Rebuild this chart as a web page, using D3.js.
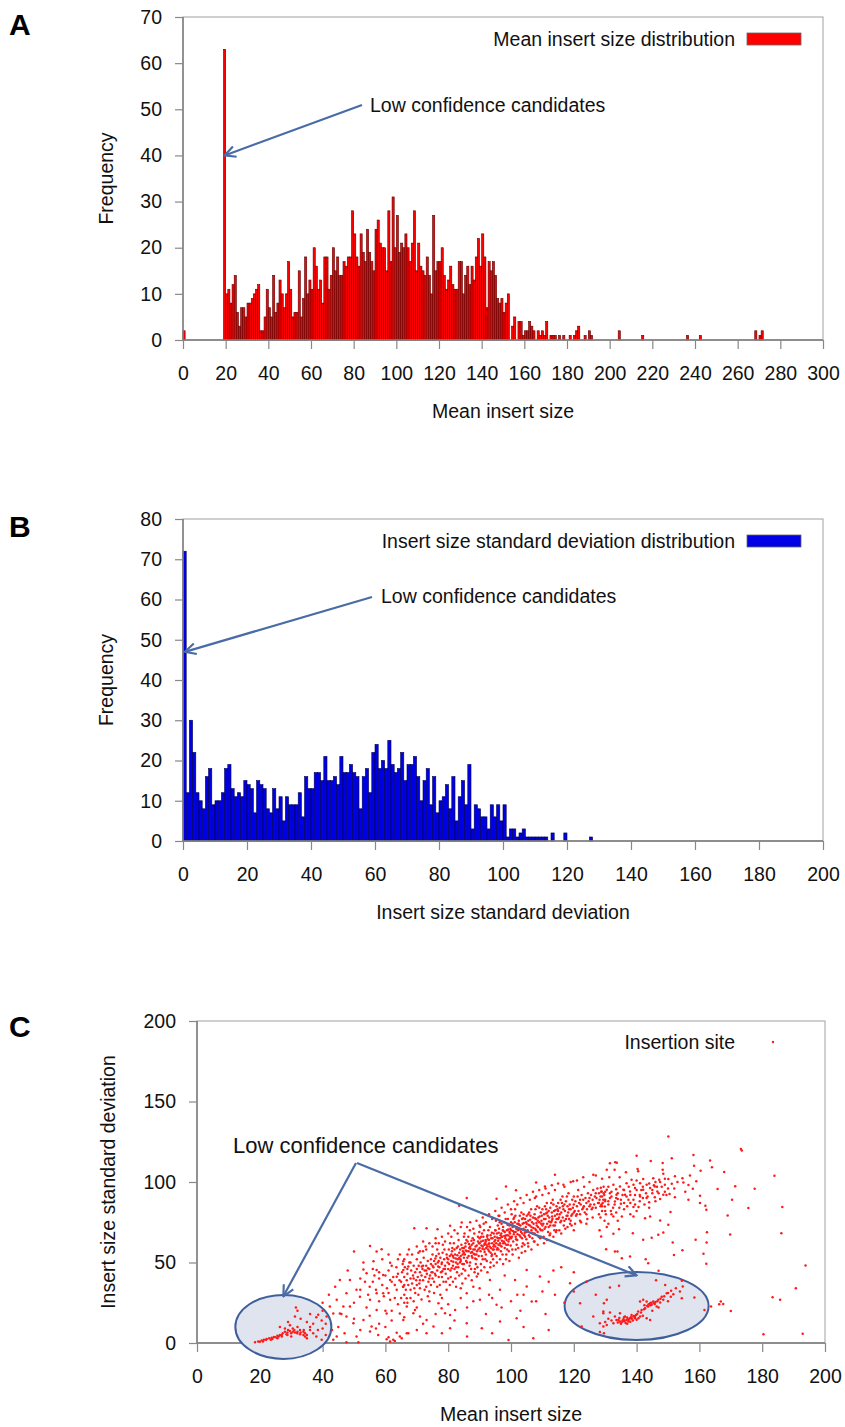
<!DOCTYPE html>
<html>
<head>
<meta charset="utf-8">
<script src="https://cdnjs.cloudflare.com/ajax/libs/d3/7.8.5/d3.min.js"></script>
<style>
  body { margin: 0; background: #fff; }
  text { font-family: "Liberation Sans", Arial, Helvetica, sans-serif; }
</style>
</head>
<body>
<svg id="chart"></svg>
<script>
//Panel A: mean insert size histogram (bin width 1)
const meanStart = 19;
const meanCounts = [63,10,11,8,12,14,6,3,7,7,5,8,8,9,10,11,12,2,2,5,11,7,5,14,6,8,13,10,7,10,
  17,11,5,6,6,15,5,9,18,10,13,11,20,16,11,13,8,18,18,11,14,20,15,18,14,14,17,16,18,18,
  28,23,18,16,23,19,17,24,19,17,15,24,26,21,20,20,15,28,17,31,20,27,19,21,20,23,20,17,21,28,
  15,21,16,15,14,18,14,10,27,15,17,17,20,14,11,13,16,12,11,11,17,17,10,14,16,12,16,13,18,22,
  16,23,18,7,17,15,17,14,9,8,9,6,8,10,0,3,5,0,4,4,1,2,2,4,3,2,0,2,1,2,1,4,0,1,1,1,0,1,0,1,
  0,0,1,0,1,2,3,0,0,1,0,2,1];
const meanExtraBins = [[0,2],[204,2],[215,1],[236,1],[242,1],[268,2],[270,1],[271,2]];
const meanXTicks = [0,20,40,60,80,100,120,140,160,180,200,220,240,260,280,300];
const meanYTicks = [0,10,20,30,40,50,60,70];

//Panel B: insert size standard deviation histogram (bin width 1, starting at 0)
const sdCounts = [72,12,30,22,12,10,8,16,18,9,10,10,12,18,19,13,11,12,11,15,
  14,13,7,15,14,13,8,7,13,8,11,5,11,9,9,9,12,6,16,13,
  13,17,17,15,21,15,15,16,14,21,17,17,19,17,16,8,16,18,12,22,
  24,18,20,18,25,19,17,18,22,15,19,19,21,16,10,15,18,9,16,7,
  10,11,14,8,16,5,11,15,9,19,3,9,8,6,6,3,9,6,9,5,
  9,1,3,3,1,2,3,1,1,1,1,1,1,1,0,2,0,0,0,2,0,0,0,0,0,0,0,1];
const sdXTicks = [0,20,40,60,80,100,120,140,160,180,200];
const sdYTicks = [0,10,20,30,40,50,60,70,80];

//Panel C: insertion sites [mean insert size, insert size sd]
const siteXTicks = [0,20,40,60,80,100,120,140,160,180,200];
const siteYTicks = [0,50,100,150,200];

const leftCluster = [[18.5,0.5],[19.5,1],[20.6,1.5],[21.3,2],[22.2,2.5],[23,3],[23.8,3.2],[24.5,3.8],[25.6,4.5],[26.4,5],
  [27.3,6],[28,7],[28.8,6.5],[29.6,7.5],[30.5,7],[31.2,6.5],[31.9,6],[32.8,5.5],[33.9,5],[34.4,6],
  [29.6,11],[31.5,22],[32,20],[31.2,16.5],[32.8,8],[35,13],[36,10],[38,16],[38.6,17.5],[39.7,14],
  [38,4],[39.7,2],[26.4,10],[28,9],[30.5,9],[32,10],[33.9,7],[34.4,4],[28.8,5],[25.6,3],
  [22,2],[24,2.5],[27,4],[30,4],[20,0.8],[36,8],[37,12],[40,9],[41,12],[35,3],
  [21,1],[23.5,2],[25,3.5],[26,4],[27,5],[28.5,5.5],[29,8],[30,6],[31,8],[32,7],
  [33,6.5],[34,8],[35,5],[37,6],[38.5,8],[29,13],[33,15],[36,18],[40,20],[41,5]];

const lowScatter = [[50,56.8],[55.1,60.3],[57.2,56.8],[58.8,58.3],[56.2,50.8],[61.5,49.8],[64.6,55],[65.7,50.8],
  [53,45.6],[54,43.4],[57.2,45.3],[59.3,42.3],[61.5,39.2],[63.6,41.2],[65.7,45.3],[67.3,47.5],
  [48.7,39.2],[50.8,33],[45.5,39.2],[47.6,30.9],[44.5,26.8],[46.6,22.6],[42.3,22.6],[43.4,18.4],
  [41.3,16.4],[45.5,18.4],[47.6,16.4],[49.8,12.3],[48.7,22.6],[51.9,28.8],[55.1,26.8],[57.2,30.9],
  [59.3,30.9],[61.5,26.8],[63.6,33],[65.7,35],[57.2,20.5],[60.4,18.4],[64.6,18.4],[66.8,22.6],
  [53,14.3],[55.6,10.2],[50.8,4],[47.6,0.5],[44.5,4],[43.4,2],[57.7,5],[60.4,2.3],[61.5,0.9],
  [62.5,2],[64.6,4],[66.8,6],[63.6,6.4],[55.1,7.1],[51.4,0.5],[61,3.5],[63,1.2],
  [55,35],[56,38],[57,33],[58,40],[59,36],[60,42],[60.5,34],[61,45],[62,38],[62.5,41],[63,36],
  [63.5,47],[64,43],[64.5,39],[58,44],[59.5,29],[61,31],[56.5,42],[53.5,38],[52,33],[54.5,30],
  [66.8,27.8],[69.4,20.5],[68.9,18.5],[71,16.4],[73.1,14.3],[75.3,10.2],[76.9,24.7],[77.9,21.6],
  [79,18.5],[80.6,17.4],[82.2,20.5],[85.9,30.9],[90.1,26.8],[90.7,9.1],[96.5,33],[95.4,23.7],
  [96.5,13.3],[99.2,1.9],[101.8,15.4],[105,35.1],[106.6,25.7],[107.1,2.9],[109.2,41.3],[113.5,45],
  [118.8,37.1],[122,24.7],[122.5,10.2],[126.2,16.4],[129.4,19.5],[130.5,26.8],[85.9,12.2],[73.1,6],
  [67.3,6],[65.7,14.3],[65.2,2.9],[80.6,9.1],[89.1,41.3],[93.3,39.2],[101.3,39.2],[105,45.4],
  [88,35],[98,42],[112,38],[116,47],[120,44],[84,28],[93,30],[102,30],[110,32],
  [42,30],[44,35],[46,18],[48,45],[50,25],[52,40],[53,50],[54,22],[56,46],[58,26],[59,52],[60,20],
  [62,48],[63,28],[64,52],[45,10],[50,15],[55,17],[58,12],[62,14],[40,25],[43,8],[47,6],[52,8],
  [57,9],[60,10],[64,24],[66,25],[61,55],
  [62,20],[66,16],[70,22],[72,12],[74,26],[76,18],[78,28],[80,24],[82,14],[84,34],[86,22],[88,26],
  [90,34],[92,18],[94,28],[97,22],[100,26],[103,20],[104,30],[108,26],[111,18],[114,30],[117,25],
  [120,32],[124,38],[127,30],[70,8],[78,6],[86,4],[94,6],[104,10],[112,8]];

const mainBand = [[65,38],[65.3,44],[65.6,35],[66,41],[66.2,47],[66.5,33],[66.8,39],[67,43],[67.3,36],[67.6,50],
  [68,40],[68.2,45],[68.5,37],[68.8,42],[69,48],[69.2,34],[69.5,44],[69.8,39],[70,46],[70,52],
  [66,30],[68,28],[67,55],[69.5,31],[65.5,49],
  [70.3,41],[70.6,48],[70.8,37],[71,44],[71.2,50],[71.5,42],[71.8,46],[72,39],[72.2,53],[72.5,45],
  [72.7,41],[73,48],[73.2,43],[73.5,51],[73.7,38],[74,46],[74.2,42],[74.5,49],[74.7,44],[75,55],
  [71,34],[72,57],[73,35],[74,32],[75,40],[70.5,56],[72.8,60],[74.5,52],[71.6,47.5],[73.6,46.5],
  [75.3,47],[75.5,51],[75.8,43],[76,49],[76.2,54],[76.5,45],[76.7,50],[77,41],[77.2,47],[77.5,53],
  [77.7,44],[78,50],[78.2,56],[78.5,46],[78.7,52],[79,48],[79.2,43],[79.5,55],[79.8,50],[80,46],
  [75.5,38],[76.5,58],[77.3,36],[78.3,61],[79.3,38],[76,62],[78.8,58],[77,55.5],[75,44],[79.6,53],
  [76.8,47.5],[78.1,44.5],[80,52],[77.9,49],[75.9,52.5],
  [80.3,49],[80.5,54],[80.7,45],[81,51],[81.2,57],[81.5,48],[81.7,53],[82,46],[82.2,55],[82.5,50],
  [82.7,59],[83,52],[83.2,47],[83.5,56],[83.7,50],[84,54],[84.2,61],[84.5,49],[84.7,57],[85,53],
  [80.8,41],[81.8,62],[82.3,40],[83.3,64],[84.3,43],[85,59],[81.3,59],[82.8,44],[83.8,58],[84.8,46],
  [80.2,58],[81.6,50.5],[82.9,54.5],[83.9,52],[84.6,55],[81.1,46.5],[82.4,52.5],[85,49],[83.1,60],[80.6,62],
  [85.3,55],[85.5,60],[85.7,51],[86,57],[86.2,63],[86.5,54],[86.7,59],[87,50],[87.2,56],[87.5,61],
  [87.7,53],[88,58],[88.2,64],[88.5,55],[88.7,60],[89,52],[89.2,57],[89.5,63],[89.7,54],[90,59],
  [85.4,45],[86.4,66],[87.3,46],[88.3,68],[89.3,47],[90,65],[85.8,64],[86.8,48],[87.8,65],[88.8,49],
  [89.8,62],[86.1,53],[87.1,58.5],[88.1,55.5],[89.1,60.5],[85.6,57.5],[86.6,61.5],[87.6,56.5],[88.6,52.5],[89.6,58],
  [86.9,70],[88.4,44],[85.2,68],[89.9,69],[87.4,63.5],
  [90.3,57],[90.5,63],[90.7,54],[91,60],[91.2,66],[91.5,58],[91.7,62],[92,55],[92.2,61],[92.5,67],
  [92.7,58],[93,64],[93.2,60],[93.5,56],[93.7,65],[94,62],[94.2,58],[94.5,68],[94.7,63],[95,60],
  [90.4,49],[91.4,70],[92.3,51],[93.3,72],[94.3,52],[95,70],[90.8,68],[91.8,52],[92.8,70],[93.8,54],
  [94.8,66],[91.1,63.5],[92.1,59],[93.1,62],[94.1,65],[90.6,60.5],[91.6,56.5],[92.6,64.5],[93.6,59],[94.6,61],
  [91.3,74],[93.4,47],[90.2,72],[94.9,55.5],[92.4,66],[91.9,64],[93.9,68.5],[92.9,61.5],[90.9,58.5],[94.4,60],
  [95.3,62],[95.5,68],[95.7,59],[96,65],[96.2,71],[96.5,62],[96.7,67],[97,60],[97.2,66],[97.5,72],
  [97.7,63],[98,69],[98.2,65],[98.5,61],[98.7,70],[99,67],[99.2,63],[99.5,73],[99.7,68],[100,65],
  [95.4,54],[96.4,75],[97.3,55],[98.3,77],[99.3,57],[100,75],[95.8,73],[96.8,57],[97.8,75],[98.8,58],
  [99.8,71],[96.1,68.5],[97.1,63.5],[98.1,66.5],[99.1,70.5],[95.6,65.5],[96.6,60.5],[97.6,69.5],[98.6,64],[99.6,66],
  [96.3,79],[98.4,52],[95.2,76],[99.9,60.5],[97.4,70],[96.9,68],[98.9,73.5],[97.9,66.5],[95.9,63.5],[99.4,64.5],
  [96,58],[98,62],[97,74],[99,77],[95,70],
  [100.3,66],[100.5,72],[100.7,63],[101,69],[101.2,75],[101.5,66],[101.7,71],[102,64],[102.2,70],[102.5,76],
  [102.7,67],[103,73],[103.2,69],[103.5,65],[103.7,74],[104,71],[104.2,67],[104.5,77],[104.7,72],[105,69],
  [100.4,58],[101.4,79],[102.3,59],[103.3,81],[104.3,61],[105,79],[100.8,77],[101.8,61],[102.8,79],[103.8,62],
  [104.8,75],[101.1,72.5],[102.1,67.5],[103.1,70.5],[104.1,74.5],[100.6,69.5],[101.6,64.5],[102.6,73.5],[103.6,68],[104.6,70],
  [101.3,83],[103.4,56],[100.2,80],[104.9,64.5],[102.4,74],[101.9,72],[103.9,77.5],[102.9,70.5],[100.9,67.5],[104.4,68.5],
  [105.3,70],[105.5,76],[105.7,67],[106,73],[106.2,79],[106.5,70],[106.7,75],[107,68],[107.2,74],[107.5,80],
  [107.7,71],[108,77],[108.2,73],[108.5,69],[108.7,78],[109,75],[109.2,71],[109.5,81],[109.7,76],[110,73],
  [105.4,62],[106.4,83],[107.3,63],[108.3,85],[109.3,65],[110,83],[105.8,81],[106.8,65],[107.8,83],[108.8,66],
  [109.8,79],[106.1,76.5],[107.1,71.5],[108.1,74.5],[109.1,78.5],[105.6,73.5],[106.6,68.5],[107.6,77.5],[108.6,72],[109.6,74],
  [110.3,74],[110.5,80],[110.7,71],[111,77],[111.2,83],[111.5,74],[111.7,79],[112,72],[112.2,78],[112.5,84],
  [112.7,75],[113,81],[113.2,77],[113.5,73],[113.7,82],[114,79],[114.2,75],[114.5,85],[114.7,80],[115,77],
  [110.4,66],[111.4,87],[112.3,67],[113.3,89],[114.3,69],[115,87],[110.8,85],[111.8,69],[112.8,87],[113.8,70],
  [114.8,83],[111.1,80.5],[112.1,75.5],[113.1,78.5],[114.1,82.5],
  [115.3,78],[115.5,84],[115.7,75],[116,81],[116.2,87],[116.5,78],[116.7,83],[117,76],[117.2,82],[117.5,88],
  [117.7,79],[118,85],[118.2,81],[118.5,77],[118.7,86],[119,83],[119.2,79],[119.5,89],[119.7,84],[120,81],
  [115.4,70],[116.4,91],[117.3,71],[118.3,93],[119.3,73],[120,91],[115.8,89],[116.8,73],[117.8,91],[118.8,74],
  [120.3,82],[120.5,88],[120.7,79],[121,85],[121.2,91],[121.5,82],[121.7,87],[122,80],[122.2,86],[122.5,92],
  [122.7,83],[123,89],[123.2,85],[123.5,81],[123.7,90],[124,87],[124.2,83],[124.5,93],[124.7,88],[125,85],
  [120.4,74],[121.4,95],[122.3,75],[123.3,97],[124.3,77],
  [125.3,86],[125.5,92],[125.7,83],[126,89],[126.2,95],[126.5,86],[126.7,91],[127,84],[127.2,90],[127.5,96],
  [127.7,87],[128,93],[128.2,89],[128.5,85],[128.7,94],[129,91],[129.2,87],[129.5,97],[129.7,92],[130,89],
  [128.5,91],[129.5,93],[130,88],[131,86],[128.8,86],[130.2,80],[129,82],[131.8,82],[132.5,84],[133.5,81],
  [134.5,84],[135,86.5],[136,83],[128.5,78],[129.8,76],[131,74],[128.2,70],[128.6,96.5],[131,97],[132,94],
  [133.5,95.5],[134,89.5],[136.8,91],[138,87],[139.5,92],[141,88],[142.5,86],[144,87.5],[145,93],[146.5,97],
  [147.5,89.5],[149,94],[150.5,92.5],[152,96],[153,100],[155.5,94],[157,104],[159,100.5]];

const bandSpread = [[65,28],[66,52],[67,25],[67.5,58],[68,33],[68.5,55],[69,26],[70,60],[70.5,30],[71,57],
  [71.5,27],[72,63],[72.5,33],[73,58],[73.5,29],[74,62],[74.5,36],[75,60],[75.5,31],[76,65],
  [76.5,35],[77,62],[77.5,30],[78,66],[78.5,38],[79,63],[79.5,33],[80,68],[66,36],[68,50],
  [70,36],[72,48],[74,40],[76,42],[78,41],[80,40],[67,46],[69,40],[71,39],[73,45],[75,48],[77,51],[79,46],
  [80.5,36],[81,66],[81.5,38],[82,70],[82.5,35],[83,68],[83.5,42],[84,72],[84.5,37],[85,66],
  [85.5,40],[86,72],[86.5,42],[87,75],[87.5,39],[88,71],[88.5,46],[89,76],[89.5,43],[90,73],
  [90.5,45],[91,78],[91.5,47],[92,75],[92.5,44],[93,80],[93.5,50],[94,77],[94.5,48],[95,82],
  [95.5,50],[96,79],[96.5,52],[97,84],[97.5,49],[98,81],[98.5,55],[99,86],[99.5,51],[100,83],
  [81,55],[82,58],[83,49],[84,51],[85,56],[86,50],[87,60],[88,62],[89,55],[90,62],
  [91,52],[92,63],[93,57],[94,55],[95,64],[96,61],[97,66],[98,59],[99,61],[100,70],
  [82.5,47],[84.5,59],[86.5,57],[88.5,58],[90.5,66],[92.5,60],[94.5,58],[96.5,65],[98.5,67],[81.5,54],
  [83.5,53],[85.5,62],[87.5,54],[89.5,66],[91.5,61],[93.5,67],[95.5,58],[97.5,62],[99.5,69],
  [100.5,55],[101,88],[101.5,58],[102,86],[102.5,53],[103,90],[103.5,60],[104,87],[104.5,57],[105,92],
  [105.5,60],[106,89],[106.5,58],[107,94],[107.5,63],[108,91],[108.5,61],[109,95],[109.5,66],[110,92],
  [110.5,62],[111,96],[111.5,64],[112,93],[112.5,68],[113,98],[113.5,66],[114,95],[114.5,70],[115,99],
  [116,68],[117,97],[118,72],[119,100],[120,70],[121,101],[122,76],[123,103],[124,74],[125,100],
  [126,78],[127,104],[128,80],[129,102],[130,82],
  [101,78],[102,74],[103,66],[104,80],[105,74],[106,66],[107,78],[108,70],[109,84],[110,70],
  [111,72],[112,82],[113,76],[114,73],[115,82],[116,76],[117,86],[118,79],[119,76],[120,86],
  [121,80],[122,89],[123,84],[124,80],[125,90],[126,84],[127,93],[128,87],[129,85],[130,94],
  [100.5,74],[101.5,69],[102.5,71],[103.5,77],[104.5,66],[105.5,80],[106.5,72],[107.5,68],[108.5,76],[109.5,70],
  [110.5,77],[111.5,81],[112.5,73],[113.5,86],[114.5,77],[115.5,80],[116.5,85],[117.5,77],[118.5,83],[119.5,80],
  [131,88],[132,91],[133,86],[134,93],[135,89],[136,95],[137,85],[138,92],[139,89],[140,95],
  [141,92],[142,97],[143,93],[144,99],[145,95],[146,100],[147,93],[148,97],[149,102],[150,96],
  [131.5,93],[133.5,90],[135.5,92],[137.5,97],[139.5,86],[141.5,95],[143.5,91],[145.5,98],[147.5,100],[149.5,92],
  [132,80],[134,76],[136,87],[138,80],[140,82],[142,90],[144,84],[146,88]];

const rightCluster = [[131.5,34.4],[134.4,35.5],[146.2,39],[149.1,36.1],[154.4,38.6],[154.7,35.1],[153.8,32],[151.7,30.3],
  [150.9,28.8],[149.6,30.9],[148,28.8],[146.9,26.8],[145.3,25.7],[144.3,24.7],[143.2,25.7],[142.1,26.8],
  [141.1,25.7],[144.8,23.7],[143.7,22.6],[142.7,21.6],[141.6,20.5],[140.5,19.5],[139.8,17.4],[139,16.4],
  [137.9,15.4],[136.8,14.3],[135.8,14.7],[134.7,13.3],[133.6,14.3],[133.1,16.4],[136.3,16.4],[138.4,17.4],
  [139.5,15.4],[140.6,15.4],[141.1,16.4],[137.4,13.3],[135.2,12.7],[134.2,14.3],[132.6,12.3],[130.5,11.2],
  [129.4,10.2],[128.3,12.3],[129.4,18.5],[131.5,18.9],[134.7,18.5],[143.2,15.4],[144.3,14.3],[147.5,25.1],
  [148.5,26.8],[146.4,22.6],[158.4,28.2],[154.4,27.8],[129.6,24.7],[128.3,6.9],[129.6,6],
  [136,13.5],[137.5,14.5],[138.5,15],[135.5,13.8],[139.5,16.2],[143.8,24],[144.6,25],[145.8,24.2],
  [142.5,23.5],[146,25.5],[137,15.8],[134,12.8],[136.5,12.5],[138,13.2],
  [135,12],[136.2,14],[137.2,14.8],[138.2,16],[139.2,16.8],[140.2,18],[141.4,19],[142.4,21],[143.4,23],[144.4,23.5],
  [145.4,24.8],[146.6,26],[147.6,27.5],[148.8,29],[150,31],[151,32.5],[152.5,34],[136,16],[134.5,15.5],[137,12],
  [132,14],[131,15],[130,13],[138.8,14],[140,14.5],[142,17],[145,20],[147,22],[150,26]];

const scattered = [[150.1,128.3],[173.2,120.5],[173.5,119.6],[140,116.3],[158.1,116.7],[151.2,114.7],[163.4,113.4],
  [144.5,113],[133.2,112.2],[148.3,111.8],[158.3,110.1],[164,109.1],[133,107.6],[140.3,108],[140.5,106.6],
  [148.3,107.6],[160.4,107],[167.9,106.2],[136.6,106],[183.9,103.9],[148.5,105.1],[131.3,103],[134.6,103],
  [138.4,101.4],[140,101],[142.1,101.8],[145.3,102.4],[147.2,101.4],[150.1,101.8],[152.2,103.5],[154.6,102.4],
  [154.9,99.7],[156.5,98.1],[157.9,95.8],[151.2,98.9],[149,98.3],[145.8,97.2],[143.2,98.3],[141.1,99.3],
  [139,98.3],[136.8,99.3],[134.7,97.2],[132.6,98.3],[130.5,95.2],[128.9,94.1],[135.8,95.2],[137.9,94.1],
  [139.5,96.2],[142.1,95.2],[144.3,96.2],[146.6,94.1],[136.3,92.1],[133.6,92.1],[131.5,90],[129.4,89],
  [141.1,91],[143.2,90],[145.8,90.6],[148.5,92.1],[152.2,90.6],[156.5,89],[160.2,91.4],[165.8,95.6],
  [171.4,97.4],[177.6,95.8],[170.4,89],[175.6,83.8],[186.4,84.4],[161.9,85.2],[162.2,82.7],[169,79.2],
  [160.2,86.9],[129.9,84.8],[133.1,87.9],[137.4,89],[139,84.4],[140.6,84.4],[132.6,78.6],[135.3,78.6],
  [139,78.6],[142.7,77.5],[144.3,78.6],[147.5,76.1],[150.8,81.3],[150.1,73.4],[138.8,68.2],[134.4,70.7],
  [130.5,72],[132.6,67.8],[128.7,66.1],[142.1,64.1],[144.8,65.3],[146.9,67.2],[148.5,68.6],[151.5,62.4],
  [154.6,57.6],[151.9,54.7],[158.8,64.1],[162.4,68.8],[162.3,62.4],[161.3,55.4],[162.2,49.2],[169.8,67.4],
  [186.1,68.2],[130.3,58.3],[133.1,56.8],[133.9,56.8],[135.3,52.7],[137.9,53.7],[142.9,52],[143.7,49.6],
  [147,44.8],[193.8,48.1],[190.7,34],[183.3,28.4],[185.7,26.8],[166.8,25.7],[167.6,24.3],[166.3,24.1],
  [163.7,22.6],[170,19.9],[161.6,20.5],[180.4,5.4],[192.9,5.8],
  [114,104.5],[108,99.7],[110.8,97.2],[126.2,104.5],[130.5,107.6],[131.5,111.7],[119.8,100.4],[116.7,98.3],
  [98.4,97.2],[101.6,94.8],[95.4,89.6],[107.6,90],[85.9,90],[83.5,85.2],[69.2,71.3],[73.1,71.3],
  [76.6,70.7],[84.3,74.9],[80.6,72.8],[133.7,112]];

const panelLetters = ["A", "B", "C"];
const annotation = "Low confidence candidates";

//Chart Setup
const w = 845;
const h = 1427;
const redFill = "#ff0000";
const blueFill = "#0000e6";
const arrowColor = "#4a6ca6";
const frameColor = "#a0a0a0";
const fontSize = 19.5;

const svg = d3.select("#chart").attr("width", w).attr("height", h);

svg.append("defs").append("marker")
   .attr("id", "arrow")
   .attr("viewBox", "0 0 12 12")
   .attr("refX", 11).attr("refY", 6)
   .attr("markerWidth", 13).attr("markerHeight", 13)
   .attr("markerUnits", "userSpaceOnUse")
   .attr("orient", "auto")
   .append("path")
   .attr("d", "M1,1 L11,6 L1,11")
   .attr("fill", "none")
   .attr("stroke", arrowColor)
   .attr("stroke-width", 2);

//Frame + axes for one panel
function drawFrame(x, y, xTicks, yTicks, xLabel, yLabel, yLabelX){
  const [x0, x1] = x.range();
  const [y1, y0] = y.range();

  svg.append("rect")
     .attr("x", x0).attr("y", y0)
     .attr("width", x1 - x0).attr("height", y1 - y0)
     .attr("fill", "none")
     .attr("stroke", frameColor)
     .attr("stroke-width", 1);

  const xAxis = svg.append("g")
     .attr("transform", `translate(0, ${y1})`)
     .call(d3.axisBottom(x).tickValues(xTicks).tickSize(9).tickPadding(17).tickFormat(d3.format("d")));
  const yAxis = svg.append("g")
     .attr("transform", `translate(${x0}, 0)`)
     .call(d3.axisLeft(y).tickValues(yTicks).tickSize(8).tickPadding(13).tickFormat(d3.format("d")));

  [xAxis, yAxis].forEach((g) => {
    g.select(".domain").attr("stroke", "#777").attr("stroke-width", 1.4);
    g.selectAll(".tick line").attr("stroke", "#888").attr("stroke-width", 1.2);
    g.selectAll(".tick text").attr("font-size", fontSize).attr("fill", "#111")
     .attr("font-family", "'Liberation Sans', Arial, sans-serif");
  });
  xAxis.select(".domain").attr("d", `M${x0},0H${x1}`);
  yAxis.select(".domain").attr("d", `M0,${y0}V${y1}`);

  svg.append("text")
     .attr("x", (x0 + x1) / 2)
     .attr("y", y1 + 78)
     .attr("text-anchor", "middle")
     .attr("font-size", fontSize)
     .attr("fill", "#111")
     .text(xLabel);

  svg.append("text")
     .attr("transform", `translate(${yLabelX}, ${(y0 + y1) / 2}) rotate(-90)`)
     .attr("text-anchor", "middle")
     .attr("font-size", fontSize)
     .attr("fill", "#111")
     .text(yLabel);
}

function drawLetter(letter, yPos){
  svg.append("text")
     .attr("x", 9).attr("y", yPos)
     .attr("font-size", 30)
     .attr("font-weight", "bold")
     .attr("fill", "#000")
     .text(letter);
}

function drawArrow(xa, ya, xb, yb){
  svg.append("line")
     .attr("x1", xa).attr("y1", ya)
     .attr("x2", xb).attr("y2", yb)
     .attr("stroke", arrowColor)
     .attr("stroke-width", 2.2)
     .attr("marker-end", "url(#arrow)");
}

//Panel A
const xA = d3.scaleLinear().domain([0, 300]).range([183, 823]);
const yA = d3.scaleLinear().domain([0, 70]).range([340, 17]);
const meanBins = meanCounts.map((c, i) => [meanStart + i, c]).concat(meanExtraBins).filter((d) => d[1] > 0);

drawLetter(panelLetters[0], 35);
svg.append("g").selectAll("rect")
   .data(meanBins).enter().append("rect")
   .attr("x", (d) => xA(d[0]))
   .attr("y", (d) => yA(d[1]))
   .attr("width", (d) => xA(d[0] + 1) - xA(d[0]))
   .attr("height", (d) => yA(0) - yA(d[1]))
   .attr("fill", redFill)
   .attr("stroke", "#5a0000")
   .attr("stroke-width", 0.6);
drawFrame(xA, yA, meanXTicks, meanYTicks, "Mean insert size", "Frequency", 113);

svg.append("text").attr("x", 735).attr("y", 46).attr("text-anchor", "end")
   .attr("font-size", fontSize).attr("fill", "#111").text("Mean insert size distribution");
svg.append("rect").attr("x", 747).attr("y", 33).attr("width", 54).attr("height", 12)
   .attr("fill", redFill).attr("stroke", "#666").attr("stroke-width", 0.8);
svg.append("text").attr("x", 370).attr("y", 112)
   .attr("font-size", fontSize).attr("fill", "#111").text(annotation);
drawArrow(362, 105, xA(19.5), yA(40));

//Panel B
const xB = d3.scaleLinear().domain([0, 200]).range([183, 823]);
const yB = d3.scaleLinear().domain([0, 80]).range([841, 519]);
const sdBins = sdCounts.map((c, i) => [i, c]).filter((d) => d[1] > 0);

drawLetter(panelLetters[1], 537);
svg.append("g").selectAll("rect")
   .data(sdBins).enter().append("rect")
   .attr("x", (d) => xB(d[0]))
   .attr("y", (d) => yB(d[1]))
   .attr("width", (d) => xB(d[0] + 1) - xB(d[0]))
   .attr("height", (d) => yB(0) - yB(d[1]))
   .attr("fill", blueFill)
   .attr("stroke", "#000050")
   .attr("stroke-width", 0.6);
drawFrame(xB, yB, sdXTicks, sdYTicks, "Insert size standard deviation", "Frequency", 113);

svg.append("text").attr("x", 735).attr("y", 548).attr("text-anchor", "end")
   .attr("font-size", fontSize).attr("fill", "#111").text("Insert size standard deviation distribution");
svg.append("rect").attr("x", 747).attr("y", 535).attr("width", 54).attr("height", 12)
   .attr("fill", blueFill).attr("stroke", "#666").attr("stroke-width", 0.8);
svg.append("text").attr("x", 381).attr("y", 603)
   .attr("font-size", fontSize).attr("fill", "#111").text(annotation);
drawArrow(372, 597, xB(0.6), yB(47));

//Panel C
const xC = d3.scaleLinear().domain([0, 200]).range([197, 825]);
const yC = d3.scaleLinear().domain([0, 200]).range([1343, 1021]);

drawLetter(panelLetters[2], 1037);
drawFrame(xC, yC, siteXTicks, siteYTicks, "Mean insert size", "Insert size standard deviation", 115);

//Low confidence regions
svg.append("ellipse")
   .attr("cx", xC(27.5)).attr("cy", yC(10))
   .attr("rx", 48).attr("ry", 32)
   .attr("fill", "#dfe4ef").attr("stroke", "#3f5f9c").attr("stroke-width", 2);
svg.append("ellipse")
   .attr("cx", xC(140)).attr("cy", yC(23))
   .attr("rx", 72).attr("ry", 34)
   .attr("fill", "#dfe4ef").attr("stroke", "#3f5f9c").attr("stroke-width", 2);

const sites = leftCluster.concat(lowScatter, mainBand, bandSpread, rightCluster, scattered);
svg.append("g").selectAll("circle")
   .data(sites).enter().append("circle")
   .attr("cx", (d) => xC(d[0]))
   .attr("cy", (d) => yC(d[1]))
   .attr("r", 1.25)
   .attr("fill", "#ff1a1a");

svg.append("text").attr("x", 735).attr("y", 1049).attr("text-anchor", "end")
   .attr("font-size", fontSize).attr("fill", "#111").text("Insertion site");
svg.append("circle").attr("cx", 773).attr("cy", 1042).attr("r", 1.2).attr("fill", "#ff1a1a");

svg.append("text").attr("x", 233).attr("y", 1153)
   .attr("font-size", 22).attr("fill", "#111").text(annotation);
drawArrow(356, 1163, xC(27.5), yC(29));
drawArrow(357, 1163, xC(140), yC(42));
</script>
</body>
</html>
